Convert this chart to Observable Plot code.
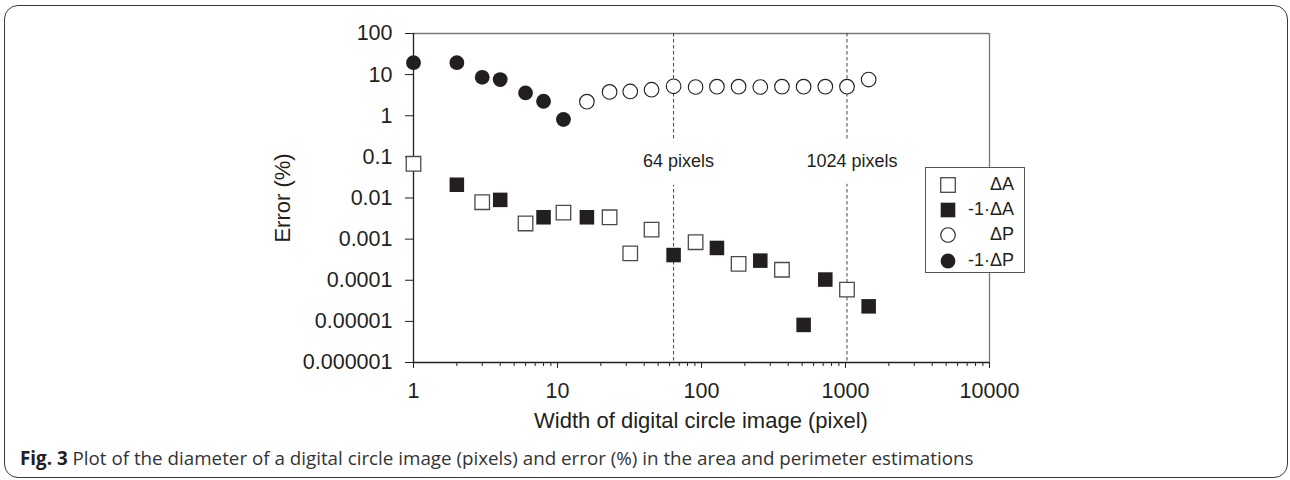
<!DOCTYPE html>
<html>
<head>
<meta charset="utf-8">
<script src="https://cdn.jsdelivr.net/npm/d3@7"></script>
<script src="https://cdn.jsdelivr.net/npm/@observablehq/plot@0.6"></script>
<style>
  body { margin: 0; background: #fff; }
  #wrap { position: relative; width: 1290px; height: 480px; overflow: hidden; font-family: "Liberation Sans", Arial, sans-serif; color: #231f20; }
  #border { position: absolute; left: 4px; top: 5px; width: 1284px; height: 473px; border: 1.6px solid #3a3a3a; border-radius: 14px; box-sizing: border-box; }
  #chart { position: absolute; left: 0; top: 0; }
  .title { position: absolute; font-size: 22px; white-space: nowrap; line-height: 1; }
  #xtitle { left: 701px; top: 421px; transform: translate(-50%, -50%); }
  #ytitle { left: 283px; top: 198px; transform: translate(-50%, -50%) rotate(-90deg); }
  #legend { position: absolute; left: 925px; top: 167px; width: 100px; height: 106px; border: 1.3px solid #555; background: #fff; box-sizing: border-box; }
  .row { position: absolute; left: 0; width: 100%; height: 24px; }
  .row svg { position: absolute; left: 12px; top: 3px; }
  .row span { position: absolute; right: 10px; top: 2px; font-size: 18px; line-height: 20px; }
  #caption { position: absolute; left: 20px; top: 446px; font-family: "Open Sans", sans-serif; font-size: 18.8px; color: #333; white-space: nowrap; line-height: 24px; }
  #caption b { color: #231f20; }
</style>
</head>
<body>
<div id="wrap">
  <div id="border"></div>
  <div id="chart"></div>
  <div id="xtitle" class="title"></div>
  <div id="ytitle" class="title"></div>
  <div id="legend"></div>
  <div id="caption"></div>
</div>
<script>
// ---- data ----
const widths = [1, 2, 3, 4, 6, 8, 11, 16, 23, 32, 45, 64, 91, 128, 181, 256, 362, 512, 724, 1024, 1448];
const areaError = [0.068, -0.021, 0.0079, -0.009, 0.0024, -0.0034, 0.0044, -0.0034, 0.0034, 0.00045, 0.0017,
  -0.00041, 0.00084, -0.00061, 0.00025, -0.0003, 0.00018, -0.0000082, -0.000104, 0.000059, -0.0000232];
const perimeterError = [-19.5, -19.5, -8.6, -7.6, -3.6, -2.25, -0.81, 2.2, 3.8, 3.9, 4.3,
  5.2, 5.0, 5.1, 5.1, 5.0, 5.1, 5.1, 5.1, 5.1, 7.6];
const seriesNames = ["ΔA", "-1·ΔA", "ΔP", "-1·ΔP"];
const xTicks = [1, 10, 100, 1000, 10000];
const xTickLabels = ["1", "10", "100", "1000", "10000"];
const yTicks = [100, 10, 1, 0.1, 0.01, 0.001, 0.0001, 0.00001, 0.000001];
const yTickLabels = ["100", "10", "1", "0.1", "0.01", "0.001", "0.0001", "0.00001", "0.000001"];
const markerLines = [64, 1024];
const markerLabels = ["64 pixels", "1024 pixels"];
const markerLabelY = 0.08;
const xTitle = "Width of digital circle image (pixel)";
const yTitle = "Error (%)";
const captionBold = "Fig. 3";
const captionText = " Plot of the diameter of a digital circle image (pixels) and error (%) in the area and perimeter estimations";

// ---- build table ----
const points = [];
widths.forEach((w, i) => {
  const a = areaError[i];
  points.push({x: w, y: Math.abs(a), series: a >= 0 ? seriesNames[0] : seriesNames[1]});
  const p = perimeterError[i];
  points.push({x: w, y: Math.abs(p), series: p >= 0 ? seriesNames[2] : seriesNames[3]});
});
const bySeries = s => points.filter(d => d.series === s);
const annotations = markerLines.map((x, i) => ({x, y: markerLabelY, label: markerLabels[i]}));
const minorX = d3.scaleLog().domain([1, 10000]).ticks().filter(t => !xTicks.includes(t));

const dark = "#231f20";
const styles = {
  [seriesNames[0]]: {symbol: "square", r: 8.2, fill: "white", stroke: "#4a4a4a", strokeWidth: 1.3},
  [seriesNames[1]]: {symbol: "square", r: 8.2, fill: dark, stroke: "none"},
  [seriesNames[2]]: {symbol: "circle", r: 7.3, fill: "white", stroke: dark, strokeWidth: 1.1},
  [seriesNames[3]]: {symbol: "circle", r: 7.4, fill: dark, stroke: "none"}
};

const chart = Plot.plot({
  width: 1290,
  height: 440,
  marginLeft: 413,
  marginRight: 301,
  marginTop: 33,
  marginBottom: 78,
  style: {fontFamily: "Liberation Sans, Arial, sans-serif", fontSize: "21.5px", color: dark, background: "transparent"},
  x: {type: "log", domain: [1, 10000]},
  y: {type: "log", domain: [0.000001, 100]},
  marks: [
    Plot.ruleY([100], {stroke: "#777", strokeWidth: 1.3}),
    Plot.ruleX([10000], {stroke: "#777", strokeWidth: 1.3}),
    Plot.ruleX(markerLines, {stroke: "#444", strokeWidth: 1, strokeDasharray: "3.5,2.5"}),
    Plot.text(annotations, {x: "x", y: "y", text: "label", dx: 5, fontSize: 18, fill: dark, stroke: "white", strokeWidth: 28}),
    Plot.axisX(minorX, {anchor: "bottom", tickSize: 4, tickFormat: () => "", label: null, stroke: dark}),
    Plot.axisX(xTicks, {anchor: "bottom", tickSize: 6, tickPadding: 14, tickFormat: d => xTickLabels[xTicks.indexOf(d)], label: null, stroke: dark}),
    Plot.axisY(yTicks, {anchor: "left", tickSize: 8, tickPadding: 13, tickFormat: d => yTickLabels[yTicks.indexOf(d)], label: null, stroke: dark}),
    Plot.ruleX([1], {stroke: dark, strokeWidth: 1.3}),
    Plot.ruleY([0.000001], {stroke: dark, strokeWidth: 1.3}),
    ...seriesNames.map(s => Plot.dot(bySeries(s), {x: "x", y: "y", ...styles[s]}))
  ]
});
document.getElementById("chart").appendChild(chart);

document.getElementById("xtitle").textContent = xTitle;
document.getElementById("ytitle").textContent = yTitle;
const cap = document.getElementById("caption");
const b = document.createElement("b");
b.textContent = captionBold;
cap.appendChild(b);
cap.appendChild(document.createTextNode(captionText));

// legend
const legend = document.getElementById("legend");
seriesNames.forEach((s, i) => {
  const row = document.createElement("div");
  row.className = "row";
  row.style.top = (4 + i * 25.2) + "px";
  const st = styles[s];
  const svg = d3.create("svg").attr("width", 20).attr("height", 20);
  if (st.symbol === "square") {
    svg.append("rect").attr("x", 2.7).attr("y", 2.7).attr("width", 14.6).attr("height", 14.6)
      .attr("fill", st.fill).attr("stroke", st.stroke).attr("stroke-width", st.strokeWidth || 0);
  } else {
    svg.append("circle").attr("cx", 10).attr("cy", 10).attr("r", st.r)
      .attr("fill", st.fill).attr("stroke", st.stroke).attr("stroke-width", st.strokeWidth || 0);
  }
  row.appendChild(svg.node());
  const sp = document.createElement("span");
  sp.textContent = s;
  row.appendChild(sp);
  legend.appendChild(row);
});
</script>
</body>
</html>
